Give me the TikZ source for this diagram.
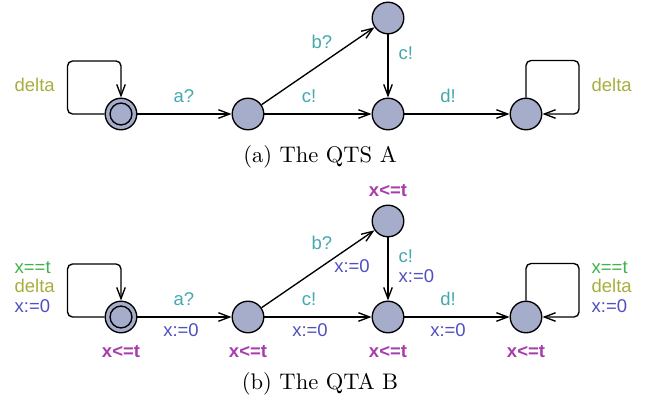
\documentclass[tikz,border=0pt]{standalone}
\usepackage{fontspec}
\newfontfamily\uppaalfont{Liberation Sans}
\usepackage{tikz}
\usetikzlibrary{positioning,arrows.meta}

\definecolor{locfill}{HTML}{A6ADCB}
\definecolor{synccol}{HTML}{45A8B0}
\definecolor{deltacol}{HTML}{A7AE3E}
\definecolor{guardcol}{HTML}{3EB34A}
\definecolor{updcol}{HTML}{4F4FBF}
\definecolor{invcol}{HTML}{A83CAF}

\begin{document}
\begin{tikzpicture}[x=0.0156cm, y=-0.0156cm, semithick,
    >={Straight Barb[length=5pt,width=3.8pt]},
    loc/.style={circle, draw, fill=locfill, minimum size=14pt, inner sep=0pt},
    initring/.style={circle, draw, minimum size=9.7pt, inner sep=0pt},
    lab/.style={font=\uppaalfont\fontsize{8.2}{8.8}\selectfont, inner sep=0pt},
    sync/.style={lab, text=synccol},
    upd/.style={lab, text=updcol},
    dlt/.style={lab, text=deltacol},
    inv/.style={lab, text=invcol, font=\uppaalfont\bfseries\fontsize{8.2}{8.8}\selectfont},
    looplab/.style={lab, align=left, anchor=west},
    loopedge/.style={->, rounded corners=2.2pt}]
    \useasboundingbox (0,0) rectangle (652,408);

    % (a) the QTS A
    \node[loc] (a0) at (121,114) {};
    \node[initring] (a0in) at (a0) {};
    \node[loc] (a1) at (248,114) {};
    \node[loc] (a2) at (388,18) {};
    \node[loc] (a3) at (388,114) {};
    \node[loc] (a4) at (526,114) {};

    \draw[loopedge] (a0.west) -| ++(-37,-53) -| (a0.north);
    \draw[->] (a0) -- (a1);
    \draw[->] (a1) -- (a2);
    \draw[->] (a1) -- (a3);
    \draw[->] (a2) -- (a3);
    \draw[->] (a3) -- (a4);
    \draw[loopedge] (a4.north) |- ++(53,-37) |- (a4.east);

    \node[dlt, anchor=west] (a0d) at (14,85) {delta};
    \node[sync] (a01) at (184,96) {a?};
    \node[sync] (a12) at (322,42) {b?};
    \node[sync] (a13) at (309,96) {c!};
    \node[sync, anchor=west] (a23) at (398,53) {c!};
    \node[sync] (a34) at (448,96) {d!};
    \node[dlt, anchor=west] (a4d) at (591,85) {delta};

    \node (capa) at (320,157) {(a) The QTS A};

    % (b) the QTA B
    \node[loc] (b0) at (121,317) {};
    \node[initring] (b0in) at (b0) {};
    \node[loc] (b1) at (248,317) {};
    \node[loc] (b2) at (388,221) {};
    \node[loc] (b3) at (388,317) {};
    \node[loc] (b4) at (526,317) {};

    \draw[loopedge] (b0.west) -| ++(-37,-53) -| (b0.north);
    \draw[->] (b0) -- (b1);
    \draw[->] (b1) -- (b2);
    \draw[->] (b1) -- (b3);
    \draw[->] (b2) -- (b3);
    \draw[->] (b3) -- (b4);
    \draw[loopedge] (b4.north) |- ++(53,-37) |- (b4.east);

    \node[looplab] (b0l) at (14,287)
        {\textcolor{guardcol}{x==t}\\\textcolor{deltacol}{delta}\\\textcolor{updcol}{x:=0}};
    \node[looplab] (b4l) at (591,287)
        {\textcolor{guardcol}{x==t}\\\textcolor{deltacol}{delta}\\\textcolor{updcol}{x:=0}};

    \node[sync] (b01) at (184,299) {a?};
    \node[upd] (b01u) at (181,330) {x:=0};
    \node[sync] (b12) at (322,243) {b?};
    \node[upd] (b12u) at (352,266) {x:=0};
    \node[sync] (b13) at (309,299) {c!};
    \node[upd] (b13u) at (310,330) {x:=0};
    \node[sync, anchor=west] (b23) at (398,256) {c!};
    \node[upd, anchor=west] (b23u) at (398,276) {x:=0};
    \node[sync] (b34) at (448,299) {d!};
    \node[upd] (b34u) at (448,330) {x:=0};

    \node[inv] (b0i) at (121,352) {x<=t};
    \node[inv] (b1i) at (248,352) {x<=t};
    \node[inv] (b2i) at (388,191) {x<=t};
    \node[inv] (b3i) at (388,352) {x<=t};
    \node[inv] (b4i) at (526,352) {x<=t};

    \node (capb) at (320,384) {(b) The QTA B};
\end{tikzpicture}
\end{document}
